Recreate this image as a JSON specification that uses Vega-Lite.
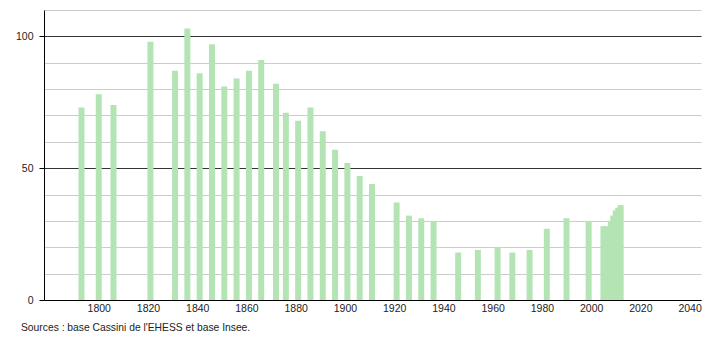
{
  "$schema": "https://vega.github.io/schema/vega-lite/v6.json",
  "autosize": "none",
  "width": 657,
  "height": 290,
  "padding": {"left": 44, "top": 10, "right": 9, "bottom": 40},
  "background": "white",
  "config": {
    "view": {"stroke": null},
    "font": "Liberation Sans"
  },
  "title": {
    "text": "Sources : base Cassini de l'EHESS et base Insee.",
    "orient": "bottom",
    "anchor": "start",
    "frame": "group",
    "dx": -23,
    "offset": 9,
    "fontSize": 10.3,
    "fontWeight": "normal",
    "color": "#222",
    "font": "Liberation Sans"
  },
  "data": {
    "values": [
      {"year": 1793, "pop": 73},
      {"year": 1800, "pop": 78},
      {"year": 1806, "pop": 74},
      {"year": 1821, "pop": 98},
      {"year": 1831, "pop": 87},
      {"year": 1836, "pop": 103},
      {"year": 1841, "pop": 86},
      {"year": 1846, "pop": 97},
      {"year": 1851, "pop": 81},
      {"year": 1856, "pop": 84},
      {"year": 1861, "pop": 87},
      {"year": 1866, "pop": 91},
      {"year": 1872, "pop": 82},
      {"year": 1876, "pop": 71},
      {"year": 1881, "pop": 68},
      {"year": 1886, "pop": 73},
      {"year": 1891, "pop": 64},
      {"year": 1896, "pop": 57},
      {"year": 1901, "pop": 52},
      {"year": 1906, "pop": 47},
      {"year": 1911, "pop": 44},
      {"year": 1921, "pop": 37},
      {"year": 1926, "pop": 32},
      {"year": 1931, "pop": 31},
      {"year": 1936, "pop": 30},
      {"year": 1946, "pop": 18},
      {"year": 1954, "pop": 19},
      {"year": 1962, "pop": 20},
      {"year": 1968, "pop": 18},
      {"year": 1975, "pop": 19},
      {"year": 1982, "pop": 27},
      {"year": 1990, "pop": 31},
      {"year": 1999, "pop": 30},
      {"year": 2005, "pop": 28},
      {"year": 2006, "pop": 28},
      {"year": 2007, "pop": 27},
      {"year": 2008, "pop": 30},
      {"year": 2009, "pop": 32},
      {"year": 2010, "pop": 34},
      {"year": 2011, "pop": 35},
      {"year": 2012, "pop": 36}
    ]
  },
  "mark": {"type": "bar", "size": 6, "color": "#b4e4b4"},
  "encoding": {
    "x": {
      "field": "year",
      "type": "quantitative",
      "scale": {"domain": [1779.8, 2042.6], "nice": false, "zero": false},
      "axis": {
        "title": null,
        "values": [1800, 1820, 1840, 1860, 1880, 1900, 1920, 1940, 1960, 1980, 2000, 2020, 2040],
        "format": "d",
        "grid": false,
        "ticks": false,
        "domainColor": "#000",
        "domainWidth": 1,
        "labelFontSize": 10.5,
        "labelColor": "#222",
        "labelPadding": 3,
        "labelFlush": false,
        "labelOverlap": false
      }
    },
    "y": {
      "field": "pop",
      "type": "quantitative",
      "scale": {"domain": [0, 110], "nice": false},
      "axis": {
        "title": null,
        "values": [0, 10, 20, 30, 40, 50, 60, 70, 80, 90, 100, 110],
        "labelExpr": "datum.value % 50 === 0 ? datum.label : ''",
        "grid": true,
        "gridColor": {"condition": {"test": "datum.value % 50 === 0", "value": "#333"}, "value": "#cccccc"},
        "gridWidth": 1,
        "tickSize": 5,
        "tickColor": "#000",
        "tickOpacity": {"condition": {"test": "datum.value % 50 === 0", "value": 1}, "value": 0},
        "domainColor": "#000",
        "labelFontSize": 10.5,
        "labelColor": "#222",
        "labelPadding": 6
      }
    }
  }
}
